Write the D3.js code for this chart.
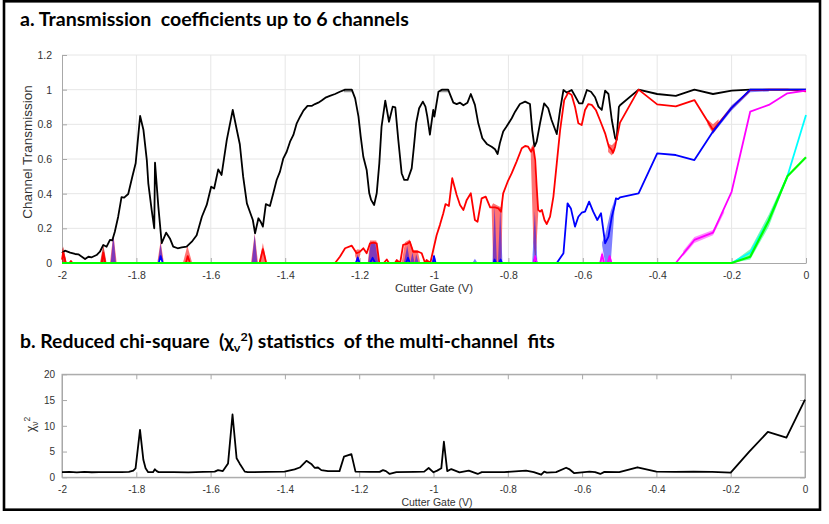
<!DOCTYPE html>
<html>
<head>
<meta charset="utf-8">
<script src="https://cdn.jsdelivr.net/npm/d3@7"></script>
<style>
  html, body { margin: 0; padding: 0; background: #fff; }
  svg { display: block; }
  text { font-family: 'Liberation Sans', Arial, sans-serif; }
  .title { font-family: Lato, 'Open Sans', sans-serif; font-weight: 700; white-space: pre; }
</style>
</head>
<body>
<script>
const gateTicks = [-2, -1.8, -1.6, -1.4, -1.2, -1, -0.8, -0.6, -0.4, -0.2, 0]
const transTicks = [0, 0.2, 0.4, 0.6, 0.8, 1, 1.2]
const chiTicks = [0, 5, 10, 15, 20]

// channel transmissions, [gate (V), T]
const t1 = [[-2.0, 0.056], [-1.992, 0.071], [-1.978, 0.06], [-1.965, 0.052], [-1.956, 0.05], [-1.938, 0.023], [-1.929, 0.036], [-1.92, 0.033], [-1.907, 0.046], [-1.898, 0.065], [-1.889, 0.104], [-1.88, 0.094], [-1.871, 0.133], [-1.865, 0.13], [-1.858, 0.18], [-1.849, 0.267], [-1.84, 0.38], [-1.833, 0.377], [-1.822, 0.398], [-1.811, 0.498], [-1.802, 0.575], [-1.79, 0.848], [-1.781, 0.767], [-1.772, 0.594], [-1.768, 0.46], [-1.759, 0.306], [-1.752, 0.2], [-1.75, 0.579], [-1.741, 0.325], [-1.732, 0.114], [-1.72, 0.175], [-1.71, 0.142], [-1.701, 0.094], [-1.689, 0.085], [-1.678, 0.09], [-1.665, 0.094], [-1.651, 0.123], [-1.638, 0.16], [-1.624, 0.267], [-1.611, 0.335], [-1.599, 0.44], [-1.591, 0.43], [-1.58, 0.54], [-1.571, 0.508], [-1.557, 0.71], [-1.541, 0.883], [-1.53, 0.767], [-1.522, 0.685], [-1.513, 0.498], [-1.503, 0.344], [-1.495, 0.296], [-1.487, 0.248], [-1.481, 0.171], [-1.472, 0.258], [-1.466, 0.238], [-1.46, 0.21], [-1.452, 0.34], [-1.441, 0.329], [-1.432, 0.402], [-1.423, 0.479], [-1.414, 0.527], [-1.405, 0.604], [-1.396, 0.642], [-1.387, 0.7], [-1.378, 0.739], [-1.369, 0.806], [-1.36, 0.844], [-1.351, 0.879], [-1.34, 0.906], [-1.329, 0.906], [-1.32, 0.917], [-1.311, 0.925], [-1.302, 0.937], [-1.29, 0.956], [-1.28, 0.964], [-1.266, 0.975], [-1.253, 0.988], [-1.239, 1.0], [-1.221, 1.0], [-1.212, 0.95], [-1.203, 0.844], [-1.197, 0.729], [-1.19, 0.613], [-1.181, 0.537], [-1.174, 0.402], [-1.169, 0.364], [-1.161, 0.335], [-1.154, 0.402], [-1.147, 0.575], [-1.141, 0.787], [-1.131, 0.937], [-1.121, 0.815], [-1.111, 0.902], [-1.104, 0.898], [-1.096, 0.71], [-1.087, 0.518], [-1.08, 0.479], [-1.071, 0.479], [-1.06, 0.546], [-1.054, 0.671], [-1.048, 0.806], [-1.04, 0.893], [-1.03, 0.931], [-1.023, 0.902], [-1.018, 0.844], [-1.011, 0.74], [-1.002, 0.883], [-0.999, 0.844], [-0.988, 0.988], [-0.979, 1.0], [-0.962, 1.0], [-0.948, 0.925], [-0.939, 0.917], [-0.93, 0.925], [-0.921, 0.91], [-0.91, 0.925], [-0.901, 0.975], [-0.89, 0.912], [-0.881, 0.806], [-0.87, 0.72], [-0.858, 0.687], [-0.845, 0.671], [-0.836, 0.656], [-0.829, 0.629], [-0.823, 0.691], [-0.814, 0.758], [-0.805, 0.787], [-0.791, 0.835], [-0.782, 0.873], [-0.769, 0.917], [-0.755, 0.931], [-0.742, 0.917], [-0.736, 0.767], [-0.73, 0.671], [-0.724, 0.7], [-0.715, 0.806], [-0.704, 0.921], [-0.693, 0.893], [-0.684, 0.825], [-0.67, 0.744], [-0.661, 0.883], [-0.652, 0.998], [-0.643, 0.983], [-0.63, 0.998], [-0.621, 0.964], [-0.61, 0.921], [-0.601, 0.921], [-0.589, 0.998], [-0.578, 0.988], [-0.567, 0.956], [-0.558, 0.902], [-0.549, 0.883], [-0.54, 0.994], [-0.531, 0.975], [-0.522, 0.825], [-0.513, 0.72], [-0.509, 0.71], [-0.503, 0.9], [-0.5, 0.91], [-0.45, 1.0], [-0.4, 0.975], [-0.35, 0.964], [-0.3, 1.0], [-0.25, 0.975], [-0.2, 0.994], [-0.15, 1.0], [-0.1, 1.0], [-0.05, 1.0], [0, 1.0]]

const t2 = [[-2.0, 0.02], [-1.997, 0.06], [-1.99, 0], [-1.98, 0], [-1.976, 0.012], [-1.972, 0], [-1.893, 0], [-1.889, 0.06], [-1.884, 0], [-1.667, 0], [-1.662, 0.04], [-1.656, 0], [-1.469, 0], [-1.46, 0.08], [-1.451, 0], [-1.266, 0], [-1.253, 0.036], [-1.239, 0.085], [-1.221, 0.1], [-1.208, 0.056], [-1.199, 0.065], [-1.19, 0.085], [-1.181, 0.056], [-1.172, 0.113], [-1.163, 0.117], [-1.154, 0.113], [-1.147, 0], [-1.135, 0], [-1.127, 0.02], [-1.121, 0], [-1.105, 0], [-1.1, 0.017], [-1.091, 0], [-1.083, 0.104], [-1.073, 0.11], [-1.065, 0.123], [-1.056, 0.065], [-1.042, 0.065], [-1.033, 0.056], [-1.024, 0], [-1.02, 0.017], [-1.01, 0], [-1.002, 0.075], [-0.993, 0.16], [-0.984, 0.22], [-0.975, 0.287], [-0.969, 0.34], [-0.96, 0.329], [-0.951, 0.489], [-0.939, 0.392], [-0.93, 0.335], [-0.921, 0.306], [-0.912, 0.364], [-0.901, 0.402], [-0.89, 0.248], [-0.883, 0.238], [-0.872, 0.373], [-0.861, 0.383], [-0.849, 0.321], [-0.836, 0.321], [-0.827, 0.315], [-0.82, 0.296], [-0.814, 0.402], [-0.802, 0.469], [-0.791, 0.518], [-0.778, 0.585], [-0.764, 0.662], [-0.755, 0.675], [-0.747, 0.671], [-0.739, 0.642], [-0.733, 0.667], [-0.728, 0.594], [-0.724, 0.44], [-0.72, 0.306], [-0.715, 0.296], [-0.71, 0.306], [-0.703, 0.248], [-0.697, 0.225], [-0.688, 0.267], [-0.679, 0.383], [-0.67, 0.575], [-0.661, 0.767], [-0.65, 0.94], [-0.639, 0.983], [-0.63, 0.969], [-0.621, 0.902], [-0.612, 0.806], [-0.603, 0.796], [-0.594, 0.883], [-0.585, 0.917], [-0.576, 0.912], [-0.565, 0.883], [-0.554, 0.825], [-0.54, 0.748], [-0.53, 0.671], [-0.522, 0.652], [-0.519, 0.635], [-0.513, 0.671], [-0.5, 0.81], [-0.45, 1.0], [-0.4, 0.915], [-0.35, 0.904], [-0.3, 0.94], [-0.25, 0.767], [-0.2, 0.895], [-0.15, 0.997], [-0.1, 1.0], [-0.05, 1.0], [0, 0.99]]

const t3 = [[-2.0, 0], [-1.74, 0], [-1.735, 0.04], [-1.729, 0], [-1.21, 0], [-1.205, 0.03], [-1.2, 0], [-1.172, 0], [-1.165, 0.03], [-1.158, 0], [-1.075, 0], [-1.07, 0.03], [-1.065, 0], [-1.003, 0], [-1.0, 0.04], [-0.996, 0], [-0.84, 0], [-0.837, 0.02], [-0.833, 0], [-0.825, 0], [-0.821, 0.02], [-0.817, 0], [-0.732, 0], [-0.728, 0.03], [-0.724, 0], [-0.67, 0], [-0.652, 0.056], [-0.641, 0.344], [-0.632, 0.315], [-0.621, 0.21], [-0.612, 0.267], [-0.603, 0.29], [-0.594, 0.296], [-0.583, 0.354], [-0.572, 0.296], [-0.561, 0.248], [-0.551, 0.287], [-0.54, 0.113], [-0.531, 0.152], [-0.522, 0.267], [-0.513, 0.344], [-0.511, 0.373], [-0.505, 0.368], [-0.5, 0.379], [-0.45, 0.402], [-0.4, 0.633], [-0.35, 0.623], [-0.3, 0.594], [-0.25, 0.758], [-0.2, 0.895], [-0.15, 1.0], [-0.1, 1.0], [-0.05, 1.0], [0, 1.0]]

const t4 = [[-2.0, 0], [-0.732, 0], [-0.728, 0.04], [-0.724, 0], [-0.553, 0], [-0.548, 0.05], [-0.543, 0], [-0.533, 0], [-0.528, 0.04], [-0.523, 0], [-0.35, 0], [-0.3, 0.133], [-0.25, 0.175], [-0.2, 0.411], [-0.15, 0.873], [-0.1, 0.912], [-0.05, 0.979], [0, 0.994]]
const t5 = [[-2.0, 0], [-0.2, 0], [-0.15, 0.06], [-0.1, 0.25], [-0.05, 0.5], [0, 0.854]]
const t6 = [[-2.0, 0], [-0.2, 0], [-0.15, 0.036], [-0.1, 0.245], [-0.05, 0.5], [0, 0.61]]

// spread of the fit solutions, [gate (V), low, high]
const t1Bands = [
  [[-2.0, 0, 0.06], [-1.997, 0, 0.09], [-1.988, 0, 0]],
  [[-1.897, 0, 0], [-1.889, 0, 0.1], [-1.881, 0, 0]],
  [[-1.242, 0.985, 1.0], [-1.221, 0.985, 1.0]],
  [[-0.984, 0.985, 1.0], [-0.962, 0.985, 1.0]]
]
const t2Bands = [
  [[-2.0, 0, 0.07], [-1.997, 0, 0.095], [-1.987, 0, 0]],
  [[-1.898, 0, 0], [-1.889, 0, 0.105], [-1.88, 0, 0]],
  [[-1.871, 0, 0], [-1.862, 0, 0.17], [-1.853, 0, 0]],
  [[-1.744, 0, 0], [-1.735, 0.04, 0.125], [-1.726, 0, 0]],
  [[-1.675, 0, 0], [-1.663, 0, 0.1], [-1.65, 0, 0]],
  [[-1.492, 0, 0], [-1.482, 0, 0.17], [-1.473, 0, 0]],
  [[-1.47, 0, 0], [-1.46, 0, 0.115], [-1.45, 0, 0]],
  [[-1.212, 0.04, 0.07], [-1.205, 0, 0.08], [-1.198, 0.05, 0.075]],
  [[-1.178, 0, 0], [-1.172, 0, 0.13], [-1.155, 0, 0.13], [-1.148, 0, 0]],
  [[-1.087, 0, 0], [-1.078, 0, 0.12], [-1.065, 0, 0.135], [-1.056, 0, 0.075], [-1.044, 0, 0.075], [-1.037, 0, 0]],
  [[-0.845, 0.31, 0.33], [-0.841, 0, 0.345], [-0.819, 0, 0.32], [-0.815, 0.37, 0.41]],
  [[-0.74, 0.63, 0.66], [-0.733, 0.12, 0.69], [-0.727, 0, 0.5], [-0.72, 0.28, 0.32]],
  [[-0.532, 0.64, 0.69], [-0.522, 0.62, 0.68], [-0.513, 0.65, 0.7]],
  [[-0.265, 0.8, 0.83], [-0.25, 0.745, 0.8], [-0.235, 0.79, 0.83]]
]
const t3Bands = [
  [[-1.869, 0, 0], [-1.862, 0, 0.165], [-1.855, 0, 0]],
  [[-1.742, 0, 0], [-1.735, 0.04, 0.115], [-1.728, 0, 0]],
  [[-1.49, 0, 0], [-1.482, 0, 0.165], [-1.475, 0, 0]],
  [[-1.212, 0, 0], [-1.205, 0, 0.05], [-1.198, 0, 0]],
  [[-1.177, 0, 0], [-1.17, 0, 0.12], [-1.158, 0, 0.12], [-1.15, 0, 0]],
  [[-1.081, 0, 0], [-1.072, 0, 0.1], [-1.064, 0, 0], [-1.058, 0, 0.06], [-1.052, 0, 0], [-1.048, 0, 0.05], [-1.041, 0, 0]],
  [[-1.007, 0, 0], [-1.0, 0, 0.05], [-0.993, 0, 0]],
  [[-0.897, 0, 0], [-0.89, 0, 0.025], [-0.883, 0, 0]],
  [[-0.843, 0, 0], [-0.837, 0, 0.33], [-0.831, 0, 0], [-0.828, 0, 0], [-0.822, 0, 0.32], [-0.816, 0, 0]],
  [[-0.736, 0, 0], [-0.729, 0, 0.3], [-0.722, 0, 0]],
  [[-0.548, 0.1, 0.12], [-0.54, 0, 0.16], [-0.525, 0, 0.3], [-0.515, 0.3, 0.36], [-0.511, 0.37, 0.38]],
  [[-0.25, 0.745, 0.77], [-0.2, 0.88, 0.91], [-0.15, 0.985, 1.0], [-0.1, 0.99, 1.0]]
]
const t4Bands = [
  [[-0.556, 0, 0], [-0.548, 0, 0.07], [-0.54, 0, 0], [-0.534, 0, 0], [-0.528, 0, 0.05], [-0.52, 0, 0]],
  [[-0.33, 0.04, 0.07], [-0.3, 0.115, 0.15], [-0.25, 0.16, 0.19], [-0.22, 0.29, 0.31]]
]
const t56Bands = [
  [[-0.2, 0, 0], [-0.15, 0.02, 0.08], [-0.1, 0.21, 0.28], [-0.05, 0.49, 0.51]]
]

// reduced chi-square of the fits, [gate (V), chi2]
const chi2 = [[-2.0, 1.0], [-1.98, 1.05], [-1.96, 0.95], [-1.94, 1.05], [-1.92, 0.98], [-1.9, 1.0], [-1.86, 1.0], [-1.84, 1.0], [-1.82, 1.05], [-1.808, 1.3], [-1.802, 1.75], [-1.79, 9.2], [-1.781, 3.4], [-1.775, 1.75], [-1.768, 1.0], [-1.755, 1.0], [-1.75, 1.55], [-1.745, 1.2], [-1.74, 1.0], [-1.7, 1.0], [-1.66, 0.95], [-1.62, 1.05], [-1.589, 1.1], [-1.58, 1.4], [-1.567, 1.2], [-1.553, 2.7], [-1.541, 12.2], [-1.53, 3.7], [-1.522, 2.7], [-1.508, 1.1], [-1.5, 1.0], [-1.45, 1.05], [-1.401, 1.1], [-1.374, 1.55], [-1.36, 1.9], [-1.342, 3.2], [-1.329, 2.6], [-1.32, 1.85], [-1.311, 1.9], [-1.302, 1.4], [-1.284, 1.2], [-1.253, 1.2], [-1.241, 4.0], [-1.221, 4.5], [-1.21, 1.1], [-1.17, 1.05], [-1.145, 1.05], [-1.136, 1.4], [-1.128, 1.2], [-1.118, 0.65], [-1.1, 1.0], [-1.05, 1.05], [-1.025, 1.1], [-1.013, 1.8], [-1.0, 0.97], [-0.99, 1.3], [-0.979, 1.75], [-0.972, 6.9], [-0.963, 1.2], [-0.952, 1.6], [-0.93, 0.97], [-0.905, 1.3], [-0.881, 0.65], [-0.87, 1.0], [-0.81, 1.0], [-0.751, 1.3], [-0.73, 1.0], [-0.71, 0.5], [-0.702, 1.1], [-0.695, 0.9], [-0.67, 1.0], [-0.643, 1.85], [-0.635, 1.6], [-0.621, 0.8], [-0.58, 1.1], [-0.565, 1.0], [-0.551, 0.65], [-0.54, 1.05], [-0.5, 1.0], [-0.451, 1.95], [-0.4, 1.1], [-0.35, 1.05], [-0.3, 1.1], [-0.25, 1.05], [-0.2, 0.9], [-0.15, 5.0], [-0.1, 8.8], [-0.05, 7.7], [0, 15.1]]

const axisColor = '#a8a8a8'
const labelColor = '#333'

const svg = d3.select('body').append('svg')
  .attr('width', 829)
  .attr('height', 524)

function styleAxis (g, fontSize) {
  g.attr('font-family', null).attr('font-size', fontSize)
  g.select('.domain').attr('stroke', axisColor)
  g.selectAll('.tick line').attr('stroke', axisColor)
  g.selectAll('.tick text').attr('fill', labelColor)
}

function fitTitle (text, x, y, width) {
  const w = text.node().getBBox().width
  text.attr('transform', `translate(${x},${y}) scale(${width / w},1)`)
}

// ---- a. transmission ----
const xA = d3.scaleLinear().domain([-2, 0]).range([62, 806])
const yA = d3.scaleLinear().domain([0, 1.2]).range([263, 55])

const grid = svg.append('g').attr('stroke', '#e6e6e6').attr('stroke-width', 1)
grid.selectAll('.gx').data(gateTicks.slice(1)).join('line')
  .attr('x1', d => xA(d)).attr('x2', d => xA(d))
  .attr('y1', yA(0)).attr('y2', yA(1.2))
grid.selectAll('.gy').data(transTicks.slice(1)).join('line')
  .attr('x1', xA(-2)).attr('x2', xA(0))
  .attr('y1', d => yA(d)).attr('y2', d => yA(d))

svg.append('g')
  .attr('transform', `translate(0,${yA(0)})`)
  .call(d3.axisBottom(xA).tickValues(gateTicks).tickFormat(d => String(d))
    .tickSizeInner(-5).tickSizeOuter(0).tickPadding(8.5))
  .call(g => styleAxis(g, 10.5))

svg.append('g')
  .attr('transform', `translate(${xA(-2)},0)`)
  .call(d3.axisLeft(yA).tickValues(transTicks).tickFormat(d => String(d))
    .tickSizeInner(-5).tickSizeOuter(0).tickPadding(10))
  .call(g => styleAxis(g, 10.5))

const lineA = d3.line().x(d => xA(d[0])).y(d => yA(d[1]))
const areaA = d3.area().x(d => xA(d[0])).y0(d => yA(d[1])).y1(d => yA(d[2]))

const channels = [
  { values: t1, bands: t1Bands, color: '#000000', bandOpacity: 0.4, width: 1.8 },
  { values: t2, bands: t2Bands, color: '#ff0000', bandOpacity: 0.55, width: 1.8 },
  { values: t3, bands: t3Bands, color: '#0000ff', bandOpacity: 0.5, width: 1.8 },
  { values: t4, bands: t4Bands, color: '#ff00ff', bandOpacity: 0.45, width: 1.8 },
  { values: t5, bands: t56Bands, color: '#00ffff', bandOpacity: 0.3, width: 1.8 },
  { values: t6, bands: t56Bands, color: '#00ee00', bandOpacity: 0.3, width: 2.2 }
]

const bandG = svg.append('g')
channels.forEach(c => {
  bandG.append('g').selectAll('path').data(c.bands).join('path')
    .attr('d', areaA)
    .attr('fill', c.color)
    .attr('fill-opacity', c.bandOpacity)
})
const lineG = svg.append('g').attr('fill', 'none').attr('stroke-linejoin', 'round')
channels.forEach(c => {
  lineG.append('path')
    .attr('d', lineA(c.values))
    .attr('stroke', c.color === '#00ee00' ? '#00ff00' : c.color)
    .attr('stroke-width', c.width)
})

svg.append('text')
  .attr('x', (xA(-2) + xA(0)) / 2)
  .attr('y', 292)
  .attr('text-anchor', 'middle')
  .attr('font-size', 11.5)
  .attr('fill', labelColor)
  .text('Cutter Gate (V)')

svg.append('text')
  .attr('transform', `translate(32,${(yA(0) + yA(1.2)) / 2 - 7}) rotate(-90)`)
  .attr('text-anchor', 'middle')
  .attr('font-size', 13.5)
  .attr('fill', labelColor)
  .text('Channel Transmission')

// ---- b. reduced chi-square ----
const xB = d3.scaleLinear().domain([-2, 0]).range([62, 805])
const yB = d3.scaleLinear().domain([0, 20]).range([477.3, 374.3])

svg.append('rect')
  .attr('x', xB(-2)).attr('y', yB(20))
  .attr('width', xB(0) - xB(-2)).attr('height', yB(0) - yB(20))
  .attr('fill', 'none').attr('stroke', axisColor)

svg.append('g')
  .attr('transform', `translate(0,${yB(0)})`)
  .call(d3.axisBottom(xB).tickValues(gateTicks).tickFormat(d => String(d))
    .tickSizeInner(-5).tickSizeOuter(0).tickPadding(8.6))
  .call(g => styleAxis(g, 10))
svg.append('g')
  .attr('transform', `translate(0,${yB(20)})`)
  .call(d3.axisTop(xB).tickValues(gateTicks).tickFormat('').tickSizeInner(-5).tickSizeOuter(0))
  .call(g => styleAxis(g, 10))
svg.append('g')
  .attr('transform', `translate(${xB(-2)},0)`)
  .call(d3.axisLeft(yB).tickValues(chiTicks).tickFormat(d => String(d))
    .tickSizeInner(-5).tickSizeOuter(0).tickPadding(7))
  .call(g => styleAxis(g, 10))
svg.append('g')
  .attr('transform', `translate(${xB(0)},0)`)
  .call(d3.axisRight(yB).tickValues(chiTicks).tickFormat('').tickSizeInner(-5).tickSizeOuter(0))
  .call(g => styleAxis(g, 10))

svg.append('path')
  .attr('d', d3.line().x(d => xB(d[0])).y(d => yB(d[1]))(chi2))
  .attr('fill', 'none')
  .attr('stroke', '#000')
  .attr('stroke-width', 1.8)
  .attr('stroke-linejoin', 'round')

svg.append('text')
  .attr('x', 437)
  .attr('y', 505.5)
  .attr('text-anchor', 'middle')
  .attr('font-size', 10.5)
  .attr('fill', labelColor)
  .text('Cutter Gate (V)')

const chiLabel = svg.append('text')
  .attr('transform', 'translate(35,432) rotate(-90)')
  .attr('font-size', 12)
  .attr('fill', labelColor)
chiLabel.append('tspan').text('χ')
chiLabel.append('tspan').attr('font-size', 8.5).attr('dy', 3).text('ν')
chiLabel.append('tspan').attr('font-size', 8.5).attr('dy', -8).text('2')

// ---- titles and frame ----
const titleA = svg.append('text')
  .attr('class', 'title')
  .attr('xml:space', 'preserve')
  .attr('font-size', 18.5)
  .attr('fill', '#000')
  .text('a. Transmission  coefficients up to 6 channels')
fitTitle(titleA, 20, 26, 389)

const titleB = svg.append('text')
  .attr('class', 'title')
  .attr('xml:space', 'preserve')
  .attr('font-size', 18.5)
  .attr('fill', '#000')
titleB.append('tspan').text('b. Reduced chi-square  (χ')
titleB.append('tspan').attr('font-size', 12).attr('dy', 4).text('ν')
titleB.append('tspan').attr('font-size', 12).attr('dy', -11).text('2')
titleB.append('tspan').attr('dy', 7).text(') statistics  of the multi-channel  fits')
fitTitle(titleB, 20, 348, 535)

svg.append('rect')
  .attr('x', 4).attr('y', 1.3)
  .attr('width', 816).attr('height', 508.4)
  .attr('fill', 'none')
  .attr('stroke', '#000')
  .attr('stroke-width', 2.6)
</script>
</body>
</html>
